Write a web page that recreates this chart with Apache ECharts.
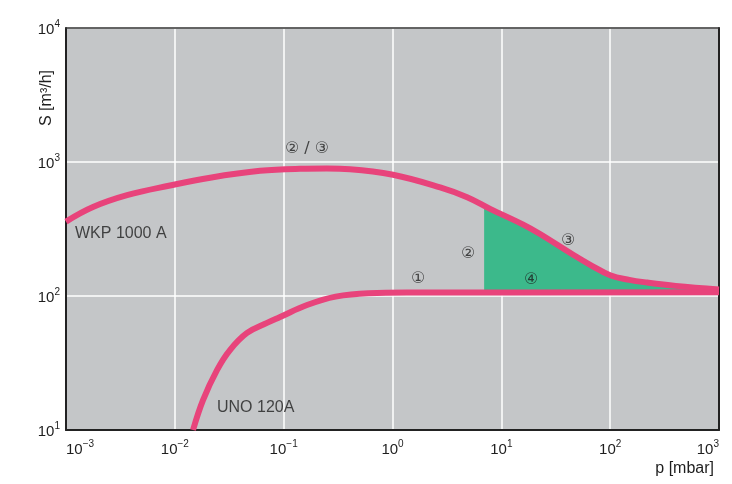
<!DOCTYPE html>
<html>
<head>
<meta charset="utf-8">
<script src="https://cdn.jsdelivr.net/npm/echarts@6/dist/echarts.min.js"></script>
<style>
html,body{margin:0;padding:0;background:#fff;}
#c{width:732px;height:484px;}
</style>
</head>
<body>
<div id="c"></div>
<script>
// ---- data (p in mbar, S in m3/h) ----
var xTicks = [0.001, 0.01, 0.1, 1, 10, 100, 1000];
var yTicks = [10, 100, 1000, 10000];

var wkp1000A = [
  [0.001, 359], [0.00177, 461], [0.00364, 565], [0.00904, 668], [0.0211, 764],
  [0.0607, 859], [0.1416, 889], [0.25, 893], [0.407, 883], [1.01, 803], [2.74, 646],
  [4.85, 546], [7.89, 447], [15.9, 341], [22.7, 290], [45.7, 203],
  [65.5, 171], [100, 143], [150, 132], [219, 126], [400, 119], [1000, 112]
];

var uno120A = [
  [0.0147, 10], [0.01815, 16.7], [0.0244, 28], [0.0321, 39.5], [0.0461, 53],
  [0.0703, 63], [0.0927, 69.7], [0.164, 85.7], [0.3, 99], [0.6, 105],
  [1.5, 106], [1000, 106.5]
];

// green region ④ : upper edge along WKP, lower edge along UNO
var regionUpper = [
  [6.95, 465], [7.89, 447], [15.9, 341], [22.7, 290], [45.7, 203],
  [65.5, 171], [100, 143], [150, 132], [219, 126], [400, 119], [1000, 112]
];
var regionLower = [[1000, 106.5], [6.95, 106]];

var textLabels = [
  { value: [0.00121, 290], text: 'WKP 1000 A', align: 'left', size: 16 },
  { value: [0.0244, 14.6], text: 'UNO 120A', align: 'left', size: 16 },
  { value: [0.164, 1250], text: '② / ③', align: 'center', size: 16 },
  { value: [1.72, 135], text: '①', align: 'center', size: 16 },
  { value: [4.95, 206], text: '②', align: 'center', size: 16 },
  { value: [41.1, 256], text: '③', align: 'center', size: 16 },
  { value: [18.8, 131], text: '④', align: 'center', size: 16 }
];

var PINK = '#e8437b';
var GREEN = '#3cb98b';
var FONT = '"Liberation Sans", Arial, Helvetica, sans-serif';

function powLabel(v) {
  var e = Math.round(Math.log(v) / Math.LN10);
  var s = e < 0 ? '\u2212' + (-e) : String(e);
  return '{b|10}{s|' + s + '}';
}
var richSup = {
  b: { fontSize: 15, lineHeight: 18, fontFamily: FONT, color: '#1e1e1e', verticalAlign: 'bottom' },
  s: { fontSize: 10, lineHeight: 13, fontFamily: FONT, color: '#1e1e1e', verticalAlign: 'top' }
};

var chart = echarts.init(document.getElementById('c'), null, { renderer: 'canvas' });
chart.setOption({
  animation: false,
  backgroundColor: '#ffffff',
  grid: {
    left: 66, right: 13, top: 28, bottom: 54,
    show: true, backgroundColor: '#c4c6c8', borderColor: '#222', borderWidth: 0,
    containLabel: false
  },
  xAxis: [{
    type: 'log', logBase: 10, min: 0.001, max: 1000,
    axisLine: { show: true, lineStyle: { color: '#222', width: 2 } },
    axisTick: { show: false },
    minorTick: { show: false },
    splitLine: { show: true, lineStyle: { color: '#ffffff', width: 1.5 } },
    axisLabel: {
      margin: 9,
      formatter: powLabel,
      rich: richSup,
      alignMaxLabel: 'right',
      alignMinLabel: 'left'
    }
  }, {
    type: 'log', logBase: 10, min: 0.001, max: 1000, position: 'top',
    axisLine: { show: true, onZero: false, lineStyle: { color: '#333', width: 1.5 } },
    axisTick: { show: false }, axisLabel: { show: false }, splitLine: { show: false }
  }],
  yAxis: [{
    type: 'log', logBase: 10, min: 10, max: 10000,
    axisLine: { show: true, lineStyle: { color: '#222', width: 2 } },
    axisTick: { show: false },
    splitLine: { show: true, lineStyle: { color: '#ffffff', width: 1.5 } },
    axisLabel: {
      margin: 6,
      formatter: powLabel,
      rich: richSup
    }
  }, {
    type: 'log', logBase: 10, min: 10, max: 10000, position: 'right',
    axisLine: { show: true, onZero: false, lineStyle: { color: '#222', width: 2 } },
    axisTick: { show: false }, axisLabel: { show: false }, splitLine: { show: false }
  }],
  graphic: [
    {
      type: 'text', x: 47, y: 98, rotation: Math.PI / 2,
      style: { text: 'S [m³/h]', font: '16px ' + FONT, fill: '#1e1e1e', align: 'center', verticalAlign: 'middle' }
    },
    {
      type: 'text', x: 714, y: 469,
      style: { text: 'p [mbar]', font: '16px ' + FONT, fill: '#1e1e1e', align: 'right', verticalAlign: 'middle' }
    }
  ],
  series: [
    {
      type: 'custom',
      name: 'region4',
      coordinateSystem: 'cartesian2d',
      z: 1,
      silent: true,
      data: [0],
      renderItem: function (params, api) {
        var pts = regionUpper.concat(regionLower).map(function (d) { return api.coord(d); });
        return {
          type: 'polygon',
          shape: { points: pts },
          style: { fill: GREEN, stroke: null }
        };
      }
    },
    {
      type: 'line', name: 'WKP 1000 A', data: wkp1000A, smooth: 0.4,
      symbol: 'none', z: 3, clip: true,
      lineStyle: { color: PINK, width: 6 }
    },
    {
      type: 'line', name: 'UNO 120A', data: uno120A, smooth: 0.4,
      symbol: 'none', z: 3, clip: true,
      lineStyle: { color: PINK, width: 6 }
    },
    {
      type: 'scatter', name: 'labels', symbolSize: 0, z: 5, silent: true,
      data: textLabels.map(function (t) {
        return {
          value: t.value,
          label: {
            show: true, position: 'inside', formatter: t.text, align: t.align,
            verticalAlign: 'middle', fontSize: t.size, color: '#1e1e1e',
            fontFamily: t.align === 'left' ? FONT : '"DejaVu Sans", ' + FONT
          }
        };
      })
    }
  ]
});
</script>
</body>
</html>
